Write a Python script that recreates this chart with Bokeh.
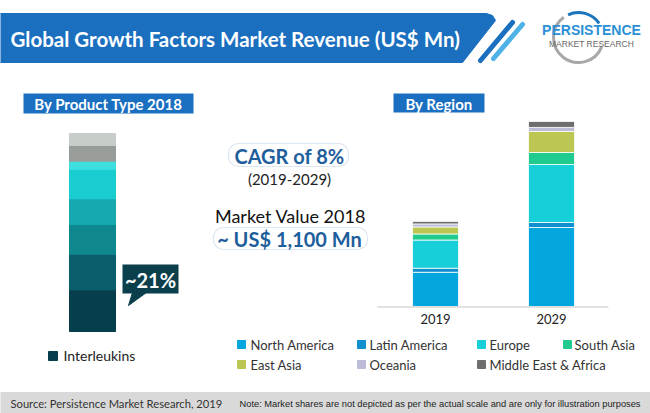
from bokeh.plotting import figure
from bokeh.models import Range1d, ColumnDataSource, BoxAnnotation
from bokeh.core.properties import value
from bokeh.embed import file_html
from bokeh.resources import INLINE

# ---------------- data ----------------
title = "Global Growth Factors Market Revenue (US$ Mn)"
years = ["2019", "2029"]
regions = ["North America", "Latin America", "Europe", "South Asia",
           "East Asia", "Oceania", "Middle East & Africa"]
north_america = [476, 1098]
latin_america = [56, 70]
europe = [392, 806]
south_asia = [84, 167]
east_asia = [98, 292]
oceania = [42, 56]
middle_east_africa = [35, 83]
region_colors = ["#04a6de", "#0e8fcf", "#17cfd9", "#1fcb8e",
                 "#bcc653", "#bdbcd8", "#6e6e6e"]

product_label = "Interleukins"
product_shares_2018 = [21, 18, 15, 13, 15, 4, 8, 6]   # bottom -> top, %
product_colors = ["#073e4c", "#0a5d6a", "#0e878f", "#15a8ae",
                  "#1acdd0", "#3fdfe0", "#989d9a", "#c7cec9"]
callout = "~21%"
cagr_text = "CAGR of 8%"
cagr_period = "(2019-2029)"
mv_label = "Market Value 2018"
mv_value = "~ US$ 1,100 Mn"
source_note = "Source: Persistence Market Research, 2019"
disclaimer = "Note: Market shares are not depicted as per the actual scale and are only for illustration purposes"

FONT = "Lato"

# ---------------- canvas ----------------
W, H = 650, 413
p = figure(width=W, height=H, output_backend="svg", toolbar_location=None,
           x_range=Range1d(0, W), y_range=Range1d(H, 0),
           x_axis_location=None, y_axis_location=None, min_border=0,
           background_fill_color="white", border_fill_color="white")
p.grid.visible = False
p.outline_line_color = None

# extra ranges for the charts
px_per_mn = 1 / 13.9
base_reg = 306
p.extra_y_ranges["reg_y"] = Range1d(start=(base_reg - H) / px_per_mn, end=base_reg / px_per_mn)
p.extra_x_ranges["reg_x"] = Range1d(start=(0 - 435) / 116, end=(W - 435) / 116)
px_per_pct = 1.98
base_prod = 331
p.extra_y_ranges["prod_y"] = Range1d(start=-(H - base_prod) / px_per_pct, end=base_prod / px_per_pct)
p.extra_x_ranges["prod_x"] = Range1d(start=(0 - 92) / 46, end=(W - 92) / 46)

def txt(x, y, t, size, color="#222222", bold=False, align="center", font=FONT):
    p.text(x=[x], y=[y], text=[t], text_font=value(font), text_font_size=f"{size}px",
           text_font_style="bold" if bold else "normal", text_color=color,
           text_align=align, text_baseline="middle")

# ---------------- header ----------------
p.patch(x=[-10, 486, 492, 495, 462, -10], y=[13, 13, 15, 20, 62, 62], color="#1b6fbf")
p.line(x=[480, 512], y=[60, 22], line_width=5, line_color="#1b6fbf", line_cap="round")
p.line(x=[493, 522], y=[58, 24], line_width=5, line_color="#4fb2e6", line_cap="round")
txt(10, 38, title, 20.5, color="white", bold=True, align="left")

# logo
p.arc(x=[578], y=[37], radius=25, start_angle=2.2, end_angle=5.9, line_color="#a8a8a8", line_width=3)
p.arc(x=[578], y=[37], radius=25, start_angle=0.6, end_angle=2.0, line_color="#1b75bc", line_width=3)
txt(591, 29, "PERSISTENCE", 14, color="#2a8fd6", bold=True, font="Liberation Sans")
txt(591, 43, "MARKET RESEARCH", 8.5, color="#666666", font="Liberation Sans")

# ---------------- section labels ----------------
for (l, r, t, b, lab) in [(23, 193, 93, 113, "By Product Type 2018"), (393, 484, 93, 112, "By Region")]:
    p.add_layout(BoxAnnotation(left=l, right=r, top=t, bottom=b, fill_color="#1b6fc0",
                               fill_alpha=1, line_color=None, level="underlay"))
    txt((l + r) / 2, (t + b) / 2 + 0.5, lab, 15, color="white", bold=True)

# ---------------- product stacked bar ----------------
pkeys = [f"s{i}" for i in range(len(product_shares_2018))]
psrc = ColumnDataSource({"x": [0], **{k: [v] for k, v in zip(pkeys, product_shares_2018)}})
p.vbar_stack(pkeys, x="x", width=1, color=product_colors, source=psrc,
             x_range_name="prod_x", y_range_name="prod_y")

# callout
p.patch(x=[132, 146, 128], y=[292, 292, 305], color="#0b3f4c")
p.add_layout(BoxAnnotation(left=122, right=178, top=264, bottom=293, fill_color="#0b3f4c",
                           fill_alpha=1, line_color=None, level="underlay"))
txt(150, 279, callout, 20, color="white", bold=True)

# product legend
p.rect(x=[52.5], y=[355.5], width=9, height=9, color=product_colors[0])
txt(63, 355, product_label, 14, color="#222222", align="left")

# ---------------- centre texts ----------------
p.add_layout(BoxAnnotation(left=228, right=348, top=143, bottom=166, fill_color="white",
                           line_color="#8fb0cf", line_width=1.2, border_radius=10, level="underlay"))
txt(289, 155.5, cagr_text, 20, color="#1e5e9c", bold=True)
txt(289, 178, cagr_period, 15, color="#222222")
txt(290, 215, mv_label, 18, color="#111111")
p.add_layout(BoxAnnotation(left=213, right=367, top=227, bottom=249, fill_color="white",
                           line_color="#8fb0cf", line_width=1.2, border_radius=10, level="underlay"))
txt(289, 238, mv_value, 20, color="#1e5e9c", bold=True)

# ---------------- region stacked bars ----------------
rkeys = ["na", "la", "eu", "sa", "ea", "oc", "mea"]
rsrc = ColumnDataSource(dict(x=[0, 1], na=north_america, la=latin_america, eu=europe,
                             sa=south_asia, ea=east_asia, oc=oceania, mea=middle_east_africa))
p.vbar_stack(rkeys, x="x", width=46 / 116, color=region_colors, source=rsrc,
             line_color="white", line_width=0.8,
             x_range_name="reg_x", y_range_name="reg_y")
p.line(x=[377, 608], y=[306.5, 306.5], line_color="#d9d9d9", line_width=1.5)
p.text(x=[0, 1], y=[0, 0], text=years, x_range_name="reg_x", y_range_name="reg_y",
       y_offset=12, text_font=value(FONT), text_font_size="13px", text_color="#222222",
       text_align="center", text_baseline="middle")

# region legend
leg_x = [237, 357, 477, 563, 237, 357, 477]
leg_gap = [13, 12, 12, 11, 13, 12, 12]
leg_y = [344, 344, 344, 344, 364, 364, 364]
for i, name in enumerate(regions):
    p.rect(x=[leg_x[i] + 4], y=[leg_y[i]], width=8, height=8, color=region_colors[i])
    txt(leg_x[i] + leg_gap[i], leg_y[i], name, 13, color="#333333", align="left")

# ---------------- footer ----------------
p.quad(left=[-10], right=[660], top=[392], bottom=[420], color="#d9d9d9")
txt(10, 403, source_note, 11.2, color="#333333", align="left")
txt(239, 403, disclaimer, 9.3, color="#222222", align="left", font="Liberation Sans")

open("out.html", "w").write(file_html(p, INLINE))
